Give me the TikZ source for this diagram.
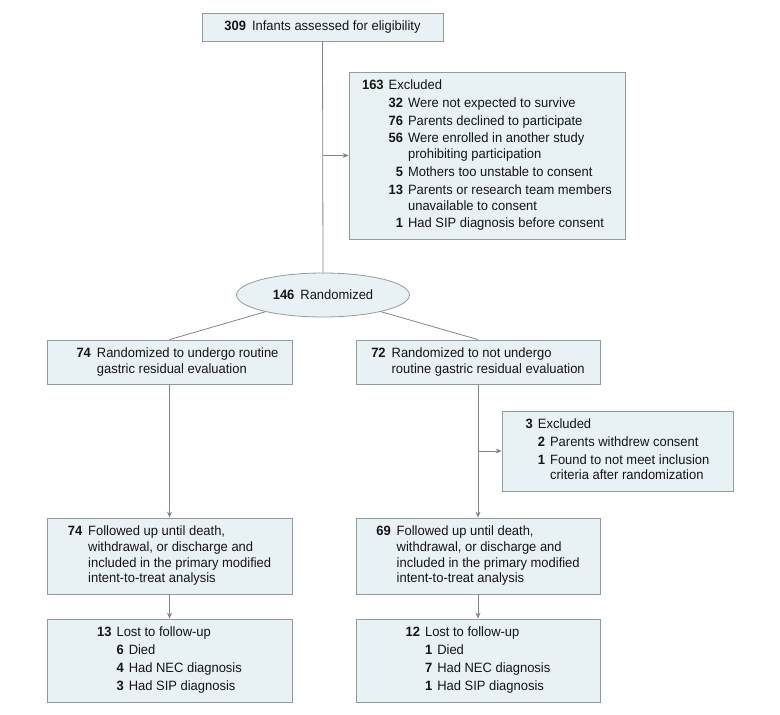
\documentclass[tikz,border=0pt]{standalone}
\usepackage{fontspec}
\setmainfont[FakeStretch=0.96]{Liberation Sans}
\usetikzlibrary{arrows.meta,shapes.geometric}
\definecolor{boxfill}{HTML}{E8F1F3}
\definecolor{boxline}{HTML}{929CA0}
\definecolor{conn}{HTML}{858585}
\definecolor{txt}{HTML}{161616}
\newcommand{\nb}[1]{\textbf{#1}}
\setlength{\tabcolsep}{0pt}
\begin{document}
\begin{tikzpicture}[x=1pt,y=-1pt,
  font=\fontsize{13.5}{15.8}\selectfont,
  box/.style={draw=boxline, fill=boxfill, line width=0.8pt, inner sep=0pt, text=txt},
  conline/.style={draw=conn, line width=0.8pt},
  arr/.style={conline, -{Stealth[length=6pt,width=5pt]}}]
\useasboundingbox (0,0) rectangle (780,715);

% top
\node[box, minimum width=241pt, minimum height=28pt] (top) at (322.5,27)
  {\nb{309}\hspace{6pt}Infants assessed for eligibility};

% excluded (top)
\node[box, minimum width=276pt, minimum height=167pt] (excl) at (487,155.5) {%
\begin{tabular}{r@{\hspace{5pt}}r@{\hspace{5pt}}l}
\nb{163} & \multicolumn{2}{l}{Excluded}\\[2pt]
 & \nb{32} & Were not expected to survive\\[2pt]
 & \nb{76} & Parents declined to participate\\[2pt]
 & \nb{56} & Were enrolled in another study\\
 &  & prohibiting participation\\[2pt]
 & \nb{5} & Mothers too unstable to consent\\[2pt]
 & \nb{13} & Parents or research team members\\
 &  & unavailable to consent\\[2pt]
 & \nb{1} & Had SIP diagnosis before consent
\end{tabular}};

% randomized
\node[box, ellipse, minimum width=173pt, minimum height=44pt] (rand) at (323,295)
  {\nb{146}\hspace{6pt}Randomized};

% arm boxes
\node[box, minimum width=245pt, minimum height=44pt] (r1L) at (169.5,362) {%
\hspace*{16pt}\begin{tabular}{r@{\hspace{6pt}}l}
\nb{74} & Randomized to undergo routine\\
 & gastric residual evaluation
\end{tabular}};
\node[box, minimum width=244pt, minimum height=44pt] (r1R) at (478,362) {%
\begin{tabular}{r@{\hspace{6pt}}l}
\nb{72} & Randomized to not undergo\\
 & routine gastric residual evaluation
\end{tabular}};

% excluded (right)
\node[box, minimum width=231pt, minimum height=80pt] (exR) at (617.5,451) {%
\begin{tabular}{r@{\hspace{5pt}}r@{\hspace{5pt}}l}
\nb{3} & \multicolumn{2}{l}{Excluded}\\[2pt]
 & \nb{2} & Parents withdrew consent\\[2pt]
 & \nb{1} & Found to not meet inclusion\\
 &  & criteria after randomization
\end{tabular}};

% follow-up
\node[box, minimum width=245pt, minimum height=76pt] (fuL) at (169.5,556) {%
\begin{tabular}{r@{\hspace{6pt}}l}
\nb{74} & Followed up until death,\\
 & withdrawal, or discharge and\\
 & included in the primary modified\\
 & intent-to-treat analysis
\end{tabular}};
\node[box, minimum width=244pt, minimum height=76pt] (fuR) at (478,556) {%
\begin{tabular}{r@{\hspace{6pt}}l}
\nb{69} & Followed up until death,\\
 & withdrawal, or discharge and\\
 & included in the primary modified\\
 & intent-to-treat analysis
\end{tabular}};

% lost
\node[box, minimum width=245pt, minimum height=83pt] (lostL) at (169.5,660.5) {%
\begin{tabular}{r@{\hspace{5pt}}r@{\hspace{5pt}}l}
\nb{13} & \multicolumn{2}{l}{Lost to follow-up}\\[2.4pt]
 & \nb{6} & Died\\[2.4pt]
 & \nb{4} & Had NEC diagnosis\\[2.4pt]
 & \nb{3} & Had SIP diagnosis
\end{tabular}};
\node[box, minimum width=244pt, minimum height=83pt] (lostR) at (478,660.5) {%
\begin{tabular}{r@{\hspace{5pt}}r@{\hspace{5pt}}l}
\nb{12} & \multicolumn{2}{l}{Lost to follow-up}\\[2.4pt]
 & \nb{1} & Died\\[2.4pt]
 & \nb{7} & Had NEC diagnosis\\[2.4pt]
 & \nb{1} & Had SIP diagnosis
\end{tabular}};

% connectors
\draw[conline] (top.south) -- (rand.north);
\coordinate (b1) at (top.south |- excl.west);
\draw[arr] (b1) -- (excl.west);
\draw[conline] (rand) -- (r1L.north);
\draw[conline] (rand) -- (r1R.north);
\draw[arr] (r1L.south) -- (fuL.north);
\draw[arr] (fuL.south) -- (lostL.north);
\draw[arr] (r1R.south) -- (fuR.north);
\coordinate (b2) at (r1R.south |- exR.west);
\draw[arr] (b2) -- (exR.west);
\draw[arr] (fuR.south) -- (lostR.north);
\end{tikzpicture}
\end{document}
